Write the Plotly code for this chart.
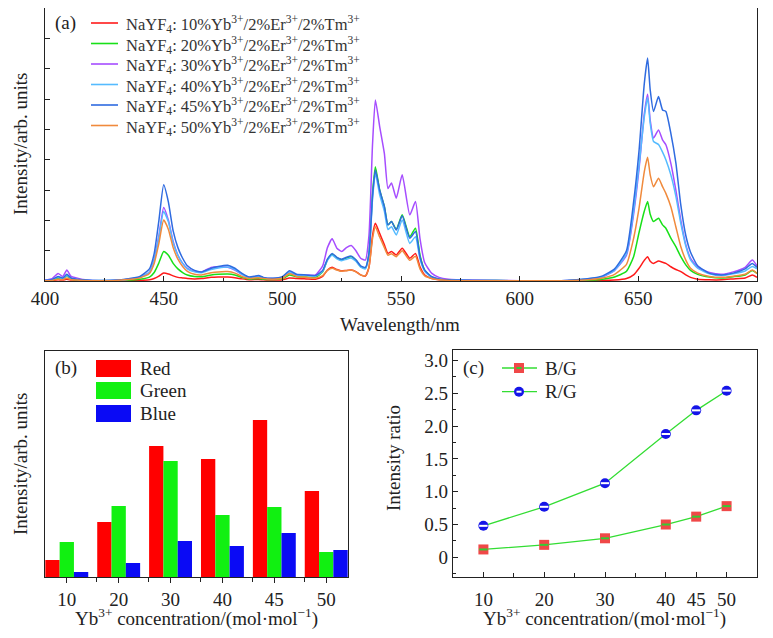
import plotly.graph_objects as go

# the page body has an 8px margin: the figure is placed at (8, 8) in the 773x638 window
OFF = 8
W, H = 773 - 2 * OFF, 638 - 2 * OFF
SERIF = "Liberation Serif, Times New Roman, serif"
TXT = "#222222"


def px(x):
    return (x - OFF) / W


def py(y):
    return 1 - (y - OFF) / H


# ---------------- Panel (a): emission spectra ----------------
wavelength = [400, 403, 405.5, 407.5, 409.2, 411, 413.4, 416, 420, 430,
              440, 444, 446, 448, 450, 452, 454, 456, 458, 460,
              463, 466, 470, 473, 477, 480, 483, 486, 490, 492,
              496, 500, 503, 506, 510, 514, 517, 519, 521, 523,
              525, 527, 529, 531, 533, 535, 536.5, 538, 539.2, 541,
              543, 544.5, 546, 548, 550.5, 553.7, 556.1, 558, 560, 563,
              566, 570, 580, 600, 620, 630, 635, 640, 645, 648,
              650.3, 652.5, 653.9, 655, 656.4, 658.5, 660.2, 661.6, 663.7, 665.8,
              667.9, 670, 672, 675, 680, 685, 690, 695, 698, 700]

spec_10 = [0.01, 0.02, 0.04, 0.03, 0.06, 0.03, 0.02, 0.01, 0.01, 0.01,
           0.02, 0.04, 0.08, 0.16, 0.26, 0.23, 0.17, 0.12, 0.10, 0.08,
           0.07, 0.08, 0.12, 0.13, 0.13, 0.11, 0.07, 0.04, 0.05, 0.04,
           0.03, 0.04, 0.10, 0.08, 0.07, 0.06, 0.15, 0.36, 0.45, 0.38,
           0.33, 0.35, 0.36, 0.31, 0.20, 0.16, 0.45, 1.50, 1.90, 1.57,
           1.19, 0.91, 0.97, 0.86, 1.08, 0.75, 0.91, 0.47, 0.20, 0.08,
           0.04, 0.02, 0.01, 0.01, 0.01, 0.01, 0.02, 0.03, 0.08, 0.20,
           0.42, 0.68, 0.80, 0.65, 0.58, 0.66, 0.62, 0.58, 0.47, 0.38,
           0.31, 0.20, 0.12, 0.06, 0.04, 0.04, 0.07, 0.10, 0.20, 0.12]

spec_20 = [0.01, 0.03, 0.10, 0.06, 0.17, 0.06, 0.04, 0.02, 0.01, 0.01,
           0.06, 0.13, 0.28, 0.60, 0.97, 0.85, 0.58, 0.40, 0.28, 0.20,
           0.15, 0.14, 0.20, 0.22, 0.23, 0.20, 0.12, 0.06, 0.08, 0.06,
           0.05, 0.07, 0.20, 0.14, 0.13, 0.12, 0.30, 0.70, 0.88, 0.76,
           0.70, 0.76, 0.80, 0.68, 0.48, 0.42, 0.90, 2.90, 3.77, 3.00,
           2.45, 1.85, 1.96, 1.70, 2.18, 1.46, 1.74, 0.85, 0.35, 0.13,
           0.06, 0.03, 0.02, 0.01, 0.01, 0.03, 0.06, 0.13, 0.32, 0.80,
           1.60, 2.30, 2.62, 2.20, 1.96, 2.07, 1.85, 1.74, 1.41, 1.13,
           0.80, 0.53, 0.35, 0.22, 0.13, 0.10, 0.14, 0.20, 0.35, 0.25]

spec_30 = [0.03, 0.08, 0.25, 0.15, 0.36, 0.15, 0.10, 0.05, 0.02, 0.02,
           0.12, 0.30, 0.70, 1.50, 2.42, 2.00, 1.30, 0.85, 0.58, 0.42,
           0.32, 0.30, 0.45, 0.47, 0.45, 0.36, 0.22, 0.12, 0.16, 0.11,
           0.08, 0.12, 0.28, 0.20, 0.20, 0.20, 0.50, 1.10, 1.39, 1.08,
           0.97, 1.10, 1.17, 1.00, 0.75, 0.69, 1.50, 4.50, 5.97, 5.10,
           4.20, 3.05, 3.23, 2.73, 3.50, 2.18, 2.62, 1.40, 0.60, 0.25,
           0.12, 0.06, 0.03, 0.01, 0.02, 0.07, 0.14, 0.35, 0.85, 2.20,
           3.70, 5.50, 6.16, 5.30, 4.71, 4.98, 4.65, 4.49, 3.88, 3.00,
           2.00, 1.20, 0.75, 0.45, 0.28, 0.22, 0.30, 0.45, 0.69, 0.50]

spec_40 = [0.02, 0.04, 0.12, 0.08, 0.18, 0.08, 0.05, 0.03, 0.02, 0.02,
           0.12, 0.30, 0.68, 1.45, 2.29, 1.95, 1.25, 0.85, 0.58, 0.40,
           0.30, 0.27, 0.38, 0.43, 0.46, 0.38, 0.22, 0.11, 0.15, 0.10,
           0.08, 0.12, 0.30, 0.20, 0.18, 0.16, 0.32, 0.68, 0.85, 0.73,
           0.67, 0.72, 0.76, 0.65, 0.46, 0.40, 0.85, 2.70, 3.55, 2.85,
           2.30, 1.70, 1.79, 1.52, 2.01, 1.24, 1.46, 0.72, 0.32, 0.12,
           0.06, 0.04, 0.02, 0.01, 0.02, 0.08, 0.15, 0.36, 0.90, 2.30,
           3.80, 5.40, 6.05, 5.20, 4.60, 4.50, 4.25, 4.00, 3.50, 2.80,
           1.90, 1.15, 0.70, 0.42, 0.24, 0.18, 0.24, 0.33, 0.48, 0.40]

spec_45 = [0.02, 0.05, 0.15, 0.10, 0.22, 0.10, 0.06, 0.04, 0.02, 0.03,
           0.15, 0.40, 0.90, 2.00, 3.17, 2.60, 1.65, 1.10, 0.75, 0.50,
           0.35, 0.30, 0.42, 0.48, 0.52, 0.42, 0.25, 0.13, 0.18, 0.12,
           0.09, 0.14, 0.34, 0.22, 0.20, 0.18, 0.35, 0.72, 0.91, 0.78,
           0.72, 0.78, 0.82, 0.70, 0.50, 0.45, 0.90, 2.80, 3.66, 3.00,
           2.45, 1.85, 1.96, 1.68, 2.15, 1.41, 1.63, 0.80, 0.36, 0.14,
           0.07, 0.04, 0.02, 0.01, 0.02, 0.09, 0.17, 0.40, 1.00, 2.60,
           4.30, 6.50, 7.35, 6.30, 5.59, 6.08, 5.64, 5.59, 4.87, 3.90,
           2.50, 1.50, 0.95, 0.50, 0.25, 0.20, 0.26, 0.40, 0.58, 0.45]

spec_50 = [0.01, 0.02, 0.06, 0.04, 0.10, 0.04, 0.03, 0.02, 0.01, 0.02,
           0.10, 0.25, 0.58, 1.25, 2.01, 1.70, 1.10, 0.72, 0.48, 0.32,
           0.22, 0.20, 0.27, 0.30, 0.31, 0.26, 0.15, 0.08, 0.11, 0.08,
           0.06, 0.09, 0.25, 0.15, 0.12, 0.10, 0.18, 0.35, 0.42, 0.36,
           0.32, 0.34, 0.36, 0.30, 0.20, 0.17, 0.45, 1.40, 1.79, 1.45,
           1.10, 0.85, 0.90, 0.80, 1.00, 0.68, 0.82, 0.40, 0.17, 0.08,
           0.04, 0.02, 0.01, 0.01, 0.01, 0.05, 0.10, 0.22, 0.55, 1.40,
           2.40, 3.60, 4.08, 3.50, 3.11, 3.39, 3.11, 2.89, 2.45, 1.79,
           1.13, 0.69, 0.42, 0.26, 0.15, 0.12, 0.16, 0.22, 0.36, 0.25]

yb_percent = ["10", "20", "30", "40", "45", "50"]
spectra = [spec_10, spec_20, spec_30, spec_40, spec_45, spec_50]
spec_colors = ["#ff1a1a", "#18e018", "#a64dff", "#55bbff", "#2f6be0", "#f08a3c"]
wl_ticks = [400, 450, 500, 550, 600, 650, 700]

# ---------------- Panel (b): integrated intensities ----------------
conc_labels = ["10", "20", "30", "40", "45", "50"]
red_int = [17, 55, 131, 118, 157, 86]
green_int = [35, 71, 116, 62, 70, 25]
blue_int = [5, 14, 36, 31, 44, 27]

# ---------------- Panel (c): intensity ratios ----------------
conc = [10, 20, 30, 40, 45, 50]
bg_ratio = [0.12, 0.19, 0.29, 0.50, 0.62, 0.78]
rg_ratio = [0.48, 0.77, 1.13, 1.88, 2.24, 2.54]

fig = go.Figure()

spec_names = []
for lab, ys, col in zip(yb_percent, spectra, spec_colors):
    name = ("NaYF<sub>4</sub>: " + lab + "%Yb<sup>3+</sup>/2%Er<sup>3+</sup>/2%Tm<sup>3+</sup>")
    spec_names.append(name)
    fig.add_trace(go.Scatter(x=wavelength, y=ys, mode="lines", name=name, showlegend=False,
                             line=dict(color=col, width=1.5, shape="spline", smoothing=0.5),
                             xaxis="x", yaxis="y"))

bar_pos = list(range(len(conc_labels)))
for vals, col, nm in [(red_int, "#ff0000", "Red"), (green_int, "#11f011", "Green"), (blue_int, "#0a0af5", "Blue")]:
    fig.add_trace(go.Bar(x=bar_pos, y=vals, marker=dict(color=col, line=dict(width=0)),
                         name=nm, showlegend=False, xaxis="x2", yaxis="y2"))

BG_COL, RG_COL, LINE_COL = "#f04848", "#1515e8", "#33dd33"
fig.add_trace(go.Scatter(x=conc, y=bg_ratio, mode="lines+markers", name="B/G", showlegend=False,
                         line=dict(color=LINE_COL, width=1.3),
                         marker=dict(symbol="square", size=10, color=BG_COL),
                         xaxis="x3", yaxis="y3"))
fig.add_trace(go.Scatter(x=conc, y=bg_ratio, mode="markers", showlegend=False,
                         marker=dict(symbol="line-ew", size=6, line=dict(color="#33cc33", width=2)),
                         xaxis="x3", yaxis="y3", hoverinfo="skip"))
fig.add_trace(go.Scatter(x=conc, y=rg_ratio, mode="lines+markers", name="R/G", showlegend=False,
                         line=dict(color=LINE_COL, width=1.3),
                         marker=dict(symbol="circle", size=10, color=RG_COL),
                         xaxis="x3", yaxis="y3"))
fig.add_trace(go.Scatter(x=conc, y=rg_ratio, mode="markers", showlegend=False,
                         marker=dict(symbol="line-ew", size=6, line=dict(color="#ffffff", width=2)),
                         xaxis="x3", yaxis="y3", hoverinfo="skip"))

tickfont = dict(family=SERIF, size=19, color=TXT)
axline = dict(showline=True, linecolor="#222", linewidth=1.2, mirror=True, showgrid=False,
              zeroline=False, automargin=False)

fig.update_layout(
    width=W, height=H,
    margin=dict(l=0, r=0, t=0, b=0, autoexpand=False),
    paper_bgcolor="white", plot_bgcolor="white",
    barmode="group", bargap=0.173, bargroupgap=0,
    font=dict(family=SERIF, color=TXT),
    showlegend=False,
    xaxis=dict(domain=[px(45), px(757)], anchor="y", range=[400, 700], tickmode="array",
               tickvals=wl_ticks, ticktext=[str(t) for t in wl_ticks[:-1]] + [""],
               ticks="inside", ticklen=5, tickcolor="#222", tickfont=tickfont,
               minor=dict(ticks="inside", ticklen=3, dtick=25, tick0=400, tickcolor="#222"), **axline),
    yaxis=dict(domain=[py(281), py(8)], anchor="x", range=[0, 9], tickmode="linear", tick0=0, dtick=1,
               ticks="inside", ticklen=5, tickcolor="#222", showticklabels=False, **axline),
    xaxis2=dict(domain=[px(45), px(348)], anchor="y2", range=[-0.42, 5.42], tickmode="array",
                tickvals=bar_pos, ticktext=conc_labels, ticks="outside", ticklen=5, tickcolor="#222",
                tickfont=tickfont,
                minor=dict(ticks="outside", ticklen=4, tickmode="array",
                           tickvals=[p + 0.58 for p in bar_pos[:-1]], tickcolor="#222"), **axline),
    yaxis2=dict(domain=[py(577), py(351)], anchor="x2", range=[0, 226], showticklabels=False, ticks="", **axline),
    xaxis3=dict(domain=[px(453), px(757)], anchor="y3", range=[5, 55], tickmode="array",
                tickvals=conc, ticktext=[str(c) for c in conc], ticks="inside", ticklen=5, tickcolor="#222",
                tickfont=tickfont, ticklabelstandoff=5,
                minor=dict(ticks="inside", ticklen=4, tickmode="array", tickvals=[15, 25, 35], tickcolor="#222"),
                **axline),
    yaxis3=dict(domain=[py(577), py(350)], anchor="x3", range=[-0.3, 3.16], tickmode="array",
                tickvals=[0, 0.5, 1.0, 1.5, 2.0, 2.5, 3.0],
                ticktext=["0", "0.5", "1.0", "1.5", "2.0", "2.5", "3.0"],
                ticks="inside", ticklen=5, tickcolor="#222", tickfont=tickfont,
                minor=dict(ticks="inside", ticklen=3, tick0=-0.25, dtick=0.5, tickcolor="#222"), **axline),
)


def note(text, x, y, size=19, xanchor="left", angle=0, color=TXT):
    fig.add_annotation(text=text, x=px(x), y=py(y), xref="paper", yref="paper",
                       xanchor=xanchor, yanchor="middle", showarrow=False, textangle=angle,
                       font=dict(family=SERIF, size=size, color=color))


# panel labels, axis titles, last wavelength tick label
note("(a)", 53, 23)
note("(b)", 53, 368)
note("(c)", 461, 368)
note(str(wl_ticks[-1]), 765, 298, xanchor="right")
note("Wavelength/nm", 400, 324, xanchor="center")
note("Intensity/arb. units", 20, 144, xanchor="center", angle=-90)
note("Intensity/arb. units", 20, 464, xanchor="center", angle=-90)
note("Intensity ratio", 393, 458, xanchor="center", angle=-90)
note("Yb<sup>3+</sup> concentration/(mol·mol<sup>−1</sup>)", 196, 617, xanchor="center")
note("Yb<sup>3+</sup> concentration/(mol·mol<sup>−1</sup>)", 604, 617, xanchor="center")

# legend of panel (a)
leg_rows_a = [23, 43.5, 64, 84.5, 105, 125.5]
for name, col, yy in zip(spec_names, spec_colors, leg_rows_a):
    fig.add_shape(type="line", xref="paper", yref="paper", x0=px(91), x1=px(118), y0=py(yy), y1=py(yy),
                  line=dict(color=col, width=1.6))
    note(name, 124, yy + 1, size=16.5, color="#333")

# legend of panel (b)
swatches = [(360, 377, "#ff0000", "Red"), (382, 399, "#11f011", "Green"), (405, 422, "#0a0af5", "Blue")]
for y0, y1, col, nm in swatches:
    fig.add_shape(type="rect", xref="paper", yref="paper", x0=px(96), x1=px(131), y0=py(y1), y1=py(y0),
                  fillcolor=col, line=dict(width=0))
    note(nm, 138, (y0 + y1) / 2)

# legend of panel (c)
for yy, nm, sym in [(368, "B/G", "square"), (391.7, "R/G", "circle")]:
    fig.add_shape(type="line", xref="paper", yref="paper", x0=px(502), x1=px(537), y0=py(yy), y1=py(yy),
                  line=dict(color=LINE_COL, width=1.3))
    if sym == "square":
        fig.add_shape(type="rect", xref="paper", yref="paper", x0=px(514), x1=px(524),
                      y0=py(yy + 5), y1=py(yy - 5), fillcolor=BG_COL, line=dict(width=0))
        fig.add_shape(type="line", xref="paper", yref="paper", x0=px(516.5), x1=px(521.5),
                      y0=py(yy), y1=py(yy), line=dict(color="#33cc33", width=2))
    else:
        fig.add_shape(type="circle", xref="paper", yref="paper", x0=px(514), x1=px(524),
                      y0=py(yy + 5), y1=py(yy - 5), fillcolor=RG_COL, line=dict(width=0))
        fig.add_shape(type="line", xref="paper", yref="paper", x0=px(516.5), x1=px(521.5),
                      y0=py(yy), y1=py(yy), line=dict(color="#ffffff", width=2))
    note(nm, 543, yy)

fig.write_html("out.html")
